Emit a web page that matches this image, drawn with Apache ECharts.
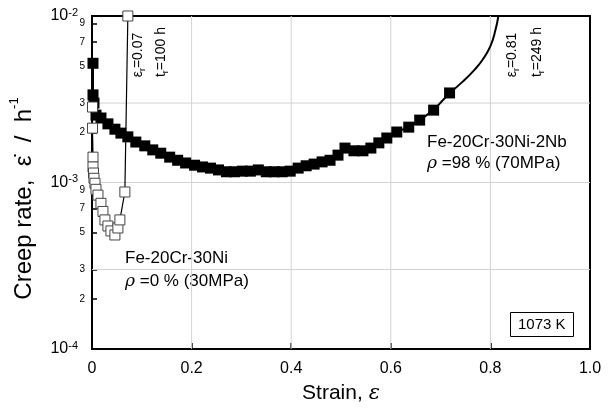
<!DOCTYPE html>
<html>
<head>
<meta charset="utf-8">
<script src="https://cdn.jsdelivr.net/npm/echarts@6/dist/echarts.min.js"></script>
<style>
  html, body { margin: 0; padding: 0; background: #fff; }
  #chart { width: 612px; height: 410px; }
</style>
</head>
<body>
<div id="chart"></div>
<script>
// Fe-20Cr-30Ni-2Nb, rho = 98 % (filled squares)
const nbStrain = [0.002, 0.002, 0.004, 0.008, 0.018, 0.032, 0.046, 0.058, 0.072, 0.088, 0.106, 0.122, 0.138, 0.156, 0.172, 0.188, 0.206, 0.222, 0.238, 0.254, 0.27, 0.286, 0.302, 0.318, 0.334, 0.35, 0.366, 0.382, 0.398, 0.414, 0.43, 0.446, 0.462, 0.478, 0.494, 0.508, 0.526, 0.544, 0.56, 0.576, 0.592, 0.612, 0.636, 0.658, 0.686, 0.718]
const nbRate = [0.0052, 0.00336, 0.0030, 0.00254, 0.00244, 0.00225, 0.00209, 0.00198, 0.00188, 0.00175, 0.00166, 0.00157, 0.00150, 0.00142, 0.00136, 0.00131, 0.00127, 0.00124, 0.00122, 0.00119, 0.00116, 0.00116, 0.00117, 0.00117, 0.00119, 0.00116, 0.00116, 0.00116, 0.00117, 0.00122, 0.00126, 0.00129, 0.00133, 0.00136, 0.00146, 0.00161, 0.00155, 0.00155, 0.00161, 0.00173, 0.00185, 0.00201, 0.00215, 0.00237, 0.00272, 0.00345]
// curve after the last marker, up to rupture (eps_r = 0.81)
const nbTailStrain = [0.718, 0.745, 0.768, 0.785, 0.800, 0.810, 0.816]
const nbTailRate = [0.00345, 0.00405, 0.00475, 0.0055, 0.0066, 0.0082, 0.010]

// Fe-20Cr-30Ni, rho = 0 % (open squares)
const niStrain = [0.001, 0.001, 0.002, 0.002, 0.003, 0.004, 0.006, 0.008, 0.012, 0.018, 0.022, 0.026, 0.032, 0.038, 0.046, 0.052, 0.056, 0.066, 0.072]
const niRate = [0.00284, 0.00212, 0.00142, 0.00124, 0.00114, 0.00106, 0.00099, 0.00091, 0.00084, 0.00075, 0.00067, 0.000596, 0.000548, 0.000512, 0.000484, 0.000533, 0.000596, 0.000877, 0.010]

const yLabelValues = [1e-4, 2e-4, 3e-4, 5e-4, 7e-4, 9e-4, 1e-3, 2e-3, 3e-3, 5e-3, 7e-3, 9e-3]
// top label a hair under 1e-2 so the log axis keeps it; drawn on its own axis
const yTopLabel = [0.0099999999]
const gridX = [0.2, 0.4, 0.6, 0.8]
const gridY = [3e-4, 1e-3, 3e-3]

const FONT = '"Liberation Sans", Arial, sans-serif'
const X_MIN = 0, X_MAX = 1, Y_MIN = 1e-4, Y_MAX = 1e-2

const pairs = (xs, ys) => xs.map((x, i) => [x, ys[i]])

const gridStyle = { color: '#d2d2d2', width: 1 }
const gridSeries = gridX.map(v => [[v, Y_MIN], [v, Y_MAX]])
  .concat(gridY.map(v => [[X_MIN, v], [X_MAX, v]]))
  .map(d => ({
    type: 'line', data: d, silent: true, showSymbol: false,
    lineStyle: gridStyle, z: 1
  }))

const yFormatter = v => {
  const e = Math.floor(Math.log10(v) + 1e-6)
  const m = Math.round(v / Math.pow(10, e))
  if (m === 1) return '{b|10}{s|' + e + '}{g|}'
  return '{m|' + m + '}'
}
const yRich = {
  b: { fontSize: 16, color: '#000', lineHeight: 18, verticalAlign: 'middle' },
  s: { fontSize: 11, color: '#000', verticalAlign: 'top' },
  g: { width: 7 },
  m: { fontSize: 10, color: '#000' }
}

const sideText = (x, y, main, sub, rest) => ({
  type: 'text', x: x, y: y, rotation: Math.PI / 2,
  style: {
    text: '{e|' + main + '}{r|' + sub + '}{n|' + rest + '}',
    align: 'center', verticalAlign: 'middle',
    rich: {
      e: { fontSize: 14, fontFamily: FONT, lineHeight: 18, verticalAlign: 'middle' },
      r: { fontSize: 9, fontFamily: FONT, verticalAlign: 'bottom' },
      n: { fontSize: 14, fontFamily: FONT, verticalAlign: 'middle' }
    }
  }
})

const chart = echarts.init(document.getElementById('chart'))

const option = {
  animation: false,
  textStyle: { fontFamily: FONT, color: '#000' },
  grid: {
    left: 89, right: 22, top: 16, bottom: 61,
    show: true, borderColor: '#000', borderWidth: 2
  },
  title: {
    text: '1073 K',
    left: 510, top: 312,
    padding: [5, 8],
    borderColor: '#000', borderWidth: 1,
    textStyle: { fontSize: 15, fontWeight: 'normal', color: '#000', fontFamily: FONT }
  },
  xAxis: {
    type: 'value',
    min: X_MIN, max: X_MAX, interval: 0.2,
    name: '{a|Strain, }{e|ε}',
    nameLocation: 'middle',
    nameGap: 34,
    nameTextStyle: {
      rich: {
        a: { fontSize: 21, fontFamily: FONT, color: '#000' },
        e: { fontSize: 21, fontFamily: 'DejaVu Serif', fontStyle: 'italic', color: '#000' }
      }
    },
    axisLine: { lineStyle: { color: '#000', width: 2 } },
    axisTick: { inside: true, length: 6, lineStyle: { color: '#000', width: 1.5 } },
    axisLabel: {
      fontSize: 16, color: '#000', margin: 12,
      formatter: v => (v === 0 ? '0' : v.toFixed(1))
    },
    splitLine: { show: false }
  },
  yAxis: [
    {
      type: 'log',
      logBase: 10,
      min: Y_MIN, max: Y_MAX,
      name: '{a|Creep rate,  ε̇  /  h}{s|-1}{p|}',
      nameLocation: 'middle',
      nameGap: 56,
      nameTextStyle: {
        rich: {
          a: { fontSize: 24, fontFamily: FONT, color: '#000', verticalAlign: 'bottom', lineHeight: 28 },
          s: { fontSize: 13, fontFamily: FONT, color: '#000', verticalAlign: 'top' },
          p: { width: 32 }
        }
      },
      axisLine: { lineStyle: { color: '#000', width: 2 } },
      axisTick: {
        inside: true, length: 5,
        customValues: yLabelValues,
        lineStyle: { color: '#000', width: 1.5 }
      },
      axisLabel: {
        customValues: yLabelValues,
        margin: 7,
        formatter: yFormatter,
        rich: yRich
      },
      splitLine: { show: false }
    },
    {
      type: 'log',
      logBase: 10,
      min: Y_MIN, max: Y_MAX,
      position: 'left',
      axisLine: { show: false },
      axisTick: { show: false },
      axisLabel: {
        customValues: yTopLabel,
        showMaxLabel: true,
        margin: 7,
        formatter: yFormatter,
        rich: yRich
      },
      splitLine: { show: false }
    }
  ],
  series: gridSeries.concat([
    {
      name: 'Fe-20Cr-30Ni-2Nb',
      type: 'line',
      data: pairs(nbStrain, nbRate),
      symbol: 'rect',
      symbolSize: 11,
      itemStyle: { color: '#000' },
      lineStyle: { color: '#000', width: 2 },
      z: 2
    },
    {
      name: 'Fe-20Cr-30Ni-2Nb tail',
      type: 'line',
      data: pairs(nbTailStrain, nbTailRate),
      showSymbol: false,
      smooth: 0.5,
      lineStyle: { color: '#000', width: 2 },
      z: 2
    },
    {
      name: 'Fe-20Cr-30Ni',
      type: 'line',
      data: pairs(niStrain, niRate),
      symbol: 'rect',
      symbolSize: 10,
      clip: false,
      itemStyle: { color: '#fff', borderColor: '#444', borderWidth: 1 },
      lineStyle: { color: '#000', width: 1.2 },
      z: 3
    }
  ]),
  graphic: [
    sideText(138, 55, 'ε', 'r', '=0.07'),
    sideText(161, 52, 't', 'r', '=100 h'),
    sideText(512, 55, 'ε', 'r', '=0.81'),
    sideText(537, 52, 't', 'r', '=249 h'),
    {
      type: 'text', x: 427, y: 132,
      style: {
        text: 'Fe-20Cr-30Ni-2Nb\n{i|ρ} =98 % (70MPa)',
        font: '17px ' + FONT,
        lineHeight: 21,
        fill: '#000',
        rich: { i: { fontSize: 17, fontStyle: 'italic', fontFamily: 'DejaVu Serif' } }
      }
    },
    {
      type: 'text', x: 125, y: 247,
      style: {
        text: 'Fe-20Cr-30Ni\n{i|ρ} =0 % (30MPa)',
        font: '17px ' + FONT,
        lineHeight: 23,
        fill: '#000',
        rich: { i: { fontSize: 17, fontStyle: 'italic', fontFamily: 'DejaVu Serif' } }
      }
    }
  ]
}

chart.setOption(option)
</script>
</body>
</html>
